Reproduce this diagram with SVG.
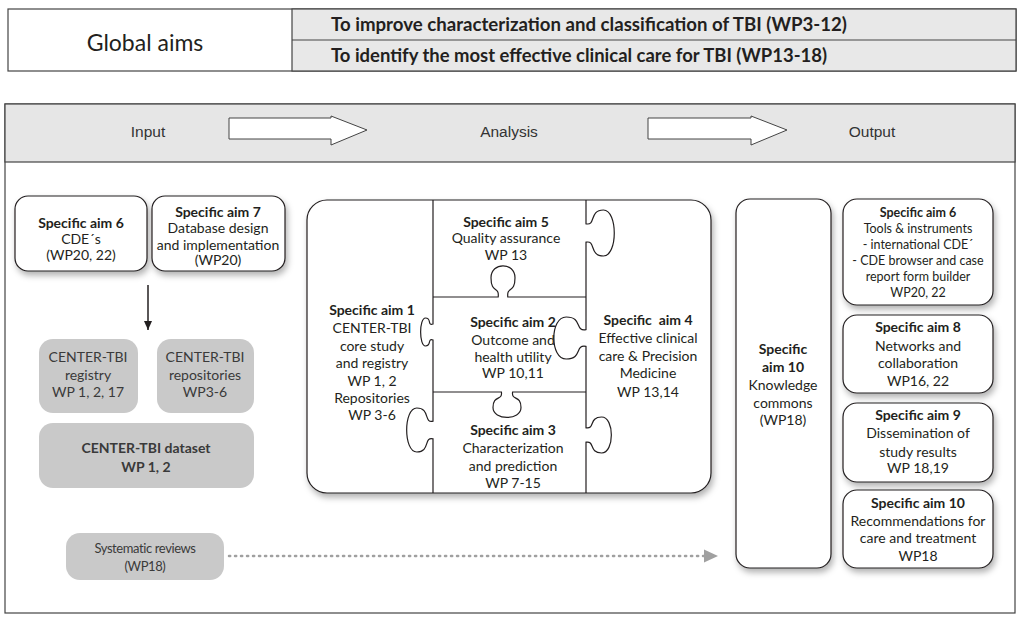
<svg xmlns="http://www.w3.org/2000/svg" width="1024" height="623" viewBox="0 0 1024 623">
<defs>
<style>
.t{font-family:Lato,"Liberation Sans",sans-serif;font-size:14px;fill:#231f20;text-anchor:middle}
.b{font-weight:bold}
.s{font-size:12.5px}
.h{font-family:"Liberation Sans",Arial,sans-serif;font-size:15.5px;fill:#333;text-anchor:middle}
.box{fill:#fff;stroke:#231f20;stroke-width:1.2}
.grey{fill:#c9c9c9}
.gt{fill:#3a3a3a}
.pz{fill:none;stroke:#231f20;stroke-width:1.2}
.fat{fill:#fff;stroke:#444;stroke-width:1}
</style>
<filter id="sh" x="-20%" y="-20%" width="140%" height="150%">
<feDropShadow dx="2" dy="4" stdDeviation="3" flood-color="#000" flood-opacity="0.3"/>
</filter>
<marker id="ah" markerWidth="10" markerHeight="10" refX="9" refY="5" orient="auto" markerUnits="userSpaceOnUse">
<path d="M0,1 L9,5 L0,9 Z" fill="#231f20"/>
</marker>
</defs>

<g id="global-aims">
<rect x="8" y="9" width="1008" height="62" fill="#fff" stroke="#444" stroke-width="1.2"/>
<rect x="292" y="9" width="724" height="62" fill="#e8e8e8" stroke="#444" stroke-width="1.2"/>
<line x1="292" y1="40" x2="1016" y2="40" stroke="#444" stroke-width="1.2"/>
<text x="145" y="51" class="t" style="font-size:23px">Global aims</text>
<text x="331" y="31" class="t b" style="font-size:18px;text-anchor:start" textLength="516" lengthAdjust="spacingAndGlyphs">To improve characterization and classification of TBI (WP3-12)</text>
<text x="331" y="62" class="t b" style="font-size:18px;text-anchor:start" textLength="496" lengthAdjust="spacingAndGlyphs">To identify the most effective clinical care for TBI (WP13-18)</text>
</g>

<g id="panel">
<rect x="5" y="104" width="1010" height="509" fill="#fff" stroke="#444" stroke-width="1.2"/>
<rect x="5" y="104" width="1010" height="58" fill="#e6e6e6" stroke="#444" stroke-width="1.2"/>
<text x="148" y="137" class="h">Input</text>
<text x="509" y="137" class="h">Analysis</text>
<text x="872" y="137" class="h">Output</text>
<path class="fat" d="M229,118 H331 V116 L367,130 L331,145 V139 H229 Z"/>
<path class="fat" d="M648,118 H751 V116 L787,130 L751,145 V139 H648 Z"/>
</g>

<g id="in-aim6">
<rect class="box" x="15" y="196" width="132" height="75" rx="13" filter="url(#sh)"/>
<text class="t b" x="81" y="228">Specific aim 6</text>
<text class="t" x="81" y="244">CDE´s</text>
<text class="t" x="81" y="260">(WP20, 22)</text>
</g>
<g id="in-aim7">
<rect class="box" x="152" y="196" width="133" height="75" rx="13" filter="url(#sh)"/>
<text class="t b" x="218" y="217">Specific aim 7</text>
<text class="t" x="218" y="233">Database design</text>
<text class="t" x="218" y="250">and implementation</text>
<text class="t" x="218" y="265">(WP20)</text>
</g>
<g id="registry">
<rect class="grey" x="39" y="339" width="99" height="74" rx="14"/>
<text class="t gt" x="88" y="362">CENTER-TBI</text>
<text class="t gt" x="88" y="380">registry</text>
<text class="t gt" x="88" y="397">WP 1, 2, 17</text>
</g>
<g id="repositories">
<rect class="grey" x="157" y="339" width="97" height="74" rx="14"/>
<text class="t gt" x="205" y="362">CENTER-TBI</text>
<text class="t gt" x="205" y="380">repositories</text>
<text class="t gt" x="205" y="397">WP3-6</text>
</g>
<g id="dataset">
<rect class="grey" x="39" y="423" width="215" height="65" rx="14"/>
<text class="t b gt" x="146" y="453">CENTER-TBI dataset</text>
<text class="t b gt" x="146" y="472">WP 1, 2</text>
</g>
<g id="systematic-reviews">
<rect class="grey" x="66" y="533" width="158" height="47" rx="14"/>
<text class="t gt" x="145" y="553" style="font-size:13px;letter-spacing:-0.4px">Systematic reviews</text>
<text class="t gt" x="145" y="571" style="font-size:13px;letter-spacing:-0.4px">(WP18)</text>
</g>

<g id="puzzle">
<rect x="307" y="200" width="404" height="293" rx="20" fill="#fff" stroke="#231f20" stroke-width="1.2" filter="url(#sh)"/>
<path class="pz" d="M433,200 V324 C427,326 432,318 425.5,318 C419,318 419,346 425.5,346 C432,346 427,338 433,340 V421.2 C423.55,423.4 430.3,408 416.8,408 C403.3,408 403.3,452 416.8,452 C430.3,452 423.55,436.6 433,438.8 V493"/>
<path class="pz" d="M586,200 V223.8 C596.15,226.1 588.9,210 603.4,210 C617.9,210 617.9,256 603.4,256 C588.9,256 596.15,239.9 586,242.2 V329.6 C574.45,331.7 582.7,317 566.2,317 C549.7,317 549.7,359 566.2,359 C582.7,359 574.45,344.3 586,346.4 V427.8 C595.1,429.6 588.6,417 601.6,417 C614.6,417 614.6,453 601.6,453 C588.6,453 595.1,440.4 586,442.2 V493"/>
<path class="pz" d="M433,297 H498.2 C499.4,285.8 491,293.8 491,277.8 C491,261.8 515,261.8 515,277.8 C515,293.8 506.6,285.8 507.8,297 H586"/>
<path class="pz" d="M433,392 H501.4 C502.8,401.1 493,394.6 493,407.6 C493,420.6 521,420.6 521,407.6 C521,394.6 511.2,401.1 512.6,392 H586"/>
</g>
<g id="aim5">
<text class="t b" x="506" y="227">Specific aim 5</text>
<text class="t" x="506" y="243">Quality assurance</text>
<text class="t" x="506" y="260">WP 13</text>
</g>
<g id="aim1">
<text class="t b" x="372" y="315">Specific aim 1</text>
<text class="t" x="372" y="333">CENTER-TBI</text>
<text class="t" x="372" y="351">core study</text>
<text class="t" x="372" y="368">and registry</text>
<text class="t" x="372" y="386">WP 1, 2</text>
<text class="t" x="372" y="403">Repositories</text>
<text class="t" x="372" y="420">WP 3-6</text>
</g>
<g id="aim2">
<text class="t b" x="513" y="327">Specific aim 2</text>
<text class="t" x="513" y="345">Outcome and</text>
<text class="t" x="513" y="362">health utility</text>
<text class="t" x="513" y="378">WP 10,11</text>
</g>
<g id="aim4">
<text class="t b" x="648" y="325" xml:space="preserve">Specific  aim 4</text>
<text class="t" x="648" y="343">Effective clinical</text>
<text class="t" x="648" y="361">care &amp; Precision</text>
<text class="t" x="648" y="378">Medicine</text>
<text class="t" x="648" y="397">WP 13,14</text>
</g>
<g id="aim3">
<text class="t b" x="513" y="435">Specific aim 3</text>
<text class="t" x="513" y="453">Characterization</text>
<text class="t" x="513" y="471">and prediction</text>
<text class="t" x="513" y="488">WP 7-15</text>
</g>

<g id="knowledge-commons">
<rect class="box" x="736" y="199" width="95" height="369" rx="14" filter="url(#sh)"/>
<text class="t b" x="783" y="354">Specific</text>
<text class="t b" x="783" y="372">aim 10</text>
<text class="t" x="783" y="390">Knowledge</text>
<text class="t" x="783" y="408">commons</text>
<text class="t" x="783" y="425">(WP18)</text>
</g>
<g id="out-aim6">
<rect class="box" x="843" y="199" width="150" height="106" rx="14" filter="url(#sh)"/>
<text class="t b s" x="918" y="217">Specific aim 6</text>
<text class="t s" x="918" y="233">Tools &amp; instruments</text>
<text class="t s" x="918" y="249">- international CDE´</text>
<text class="t s" x="918" y="265">- CDE browser and case</text>
<text class="t s" x="918" y="281">report form builder</text>
<text class="t s" x="918" y="297">WP20, 22</text>
</g>
<g id="out-aim8">
<rect class="box" x="843" y="315" width="150" height="78" rx="14" filter="url(#sh)"/>
<text class="t b" x="918" y="332">Specific aim 8</text>
<text class="t" x="918" y="351">Networks and</text>
<text class="t" x="918" y="368">collaboration</text>
<text class="t" x="918" y="386">WP16, 22</text>
</g>
<g id="out-aim9">
<rect class="box" x="843" y="403" width="150" height="79" rx="14" filter="url(#sh)"/>
<text class="t b" x="918" y="420">Specific aim 9</text>
<text class="t" x="918" y="438">Dissemination of</text>
<text class="t" x="918" y="457">study results</text>
<text class="t" x="918" y="473">WP 18,19</text>
</g>
<g id="out-aim10">
<rect class="box" x="843" y="490" width="150" height="78" rx="14" filter="url(#sh)"/>
<text class="t b" x="918" y="508">Specific aim 10</text>
<text class="t" x="918" y="526">Recommendations for</text>
<text class="t" x="918" y="543">care and treatment</text>
<text class="t" x="918" y="561">WP18</text>
</g>

<g id="connectors">
<line x1="148" y1="285" x2="148" y2="330" stroke="#231f20" stroke-width="1.5" marker-end="url(#ah)"/>
<line x1="229" y1="556" x2="704" y2="556" stroke="#a0a0a0" stroke-width="2.5" stroke-dasharray="1.2 4.8" stroke-linecap="round"/>
<path d="M704,549.5 L718,556 L704,562.5 Z" fill="#a0a0a0"/>
</g>
</svg>
